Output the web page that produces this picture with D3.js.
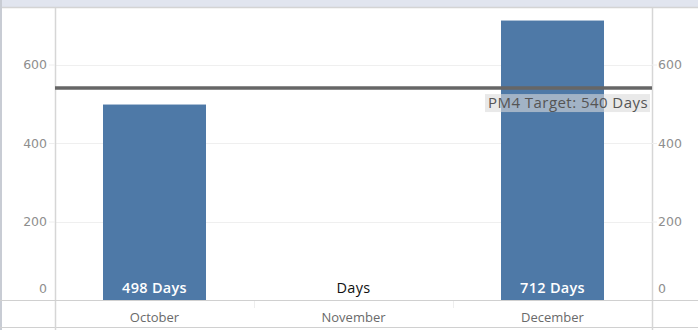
<!DOCTYPE html>
<html><head><meta charset="utf-8">
<script src="https://cdn.jsdelivr.net/npm/d3@7/dist/d3.min.js"></script>
<style>body{margin:0;background:#fff;overflow:hidden}svg{display:block}</style>
</head><body>
<script>
const months = ["October","November","December"];
const values = [498, null, 712];
const labels = ["498 Days","Days","712 Days"];
const yTicks = [0,200,400,600];
const target = 540;
const targetLabel = "PM4 Target: 540 Days";

const W=698,H=330;
const svg=d3.select("body").append("svg").attr("width",W).attr("height",H);
const L=55,R=652,T=8,B=300;
const x=d3.scaleBand().domain(months).range([L,R]).paddingInner(0).paddingOuter(0);
const y=d3.scaleLinear().domain([0,600]).range([B,B-235.5]);

// top band & borders
svg.append("rect").attr("x",0).attr("y",0).attr("width",W).attr("height",7).attr("fill","#e1e5ef");
svg.append("line").attr("x1",0).attr("x2",W).attr("y1",7.5).attr("y2",7.5).attr("stroke","#d4d4d4").attr("stroke-width",1.5);
svg.append("line").attr("x1",1).attr("x2",1).attr("y1",0).attr("y2",H).attr("stroke","#c8ccd4").attr("stroke-width",2);
svg.append("line").attr("x1",0).attr("x2",W).attr("y1",327.5).attr("y2",327.5).attr("stroke","#d0d0d0");

// gridlines
svg.append("g").selectAll("line").data(yTicks.filter(d=>d>0)).join("line")
  .attr("x1",L).attr("x2",R).attr("y1",d=>Math.round(y(d))+0.5).attr("y2",d=>Math.round(y(d))+0.5)
  .attr("stroke","#efefef");

// category dividers in bottom row
svg.append("g").selectAll("line").data(months.slice(1)).join("line")
  .attr("x1",d=>Math.round(x(d))+0.5).attr("x2",d=>Math.round(x(d))+0.5).attr("y1",B).attr("y2",B+8)
  .attr("stroke","#eeeeee");

// bars
const bw=103;
svg.append("g").selectAll("rect").data(months.map((m,i)=>({m,v:values[i]})).filter(d=>d.v!=null)).join("rect")
  .attr("x",d=>x(d.m)+x.bandwidth()/2-bw/2).attr("width",bw)
  .attr("y",d=>y(d.v)).attr("height",d=>B-y(d.v)).attr("fill","#4e79a7");

// panes
svg.append("line").attr("x1",L+0.5).attr("x2",L+0.5).attr("y1",T).attr("y2",H).attr("stroke","#d6d6d6").attr("stroke-width",1.5);
svg.append("line").attr("x1",R+0.5).attr("x2",R+0.5).attr("y1",T).attr("y2",H).attr("stroke","#d6d6d6").attr("stroke-width",1.5);
svg.append("line").attr("x1",0).attr("x2",W).attr("y1",B+0.5).attr("y2",B+0.5).attr("stroke","#d0d0d0");

// axes
const la=svg.append("g").attr("transform",`translate(${L},0)`).call(d3.axisLeft(y).tickValues(yTicks).tickSize(6).tickPadding(2));
const ra=svg.append("g").attr("transform",`translate(${R},0)`).call(d3.axisRight(y).tickValues(yTicks).tickSize(5).tickPadding(1));
[la,ra].forEach(a=>{
  a.select(".domain").remove();
  a.selectAll(".tick line").attr("stroke","#eeeeee");
  a.selectAll(".tick").filter(d=>d===0).select("line").remove();
  a.selectAll("text").attr("fill","#8e8e8e").style("font-family","'DejaVu Sans',sans-serif").style("font-size","12.5px");
  a.selectAll(".tick").filter(d=>d===0).select("text").attr("dy","-0.6em");
});

// target line
svg.append("line").attr("x1",L).attr("x2",R).attr("y1",y(target)).attr("y2",y(target)).attr("stroke","#666").attr("stroke-width",3.5);
const tl=svg.append("g");
const tt=tl.append("text").attr("x",R-4).attr("y",y(target)+20).attr("text-anchor","end")
  .attr("fill","#555").style("font-family","'Open Sans',sans-serif").style("font-size","15px")
  .style("letter-spacing","0.45px").text(targetLabel);
const bb=tt.node().getBBox();
tl.insert("rect","text").attr("x",bb.x-3).attr("y",y(target)+6).attr("width",bb.width+5).attr("height",18).attr("fill","rgba(218,218,218,0.6)");

// value labels
svg.append("g").selectAll("text").data(months.map((m,i)=>({m,v:values[i],l:labels[i]}))).join("text")
  .attr("x",d=>x(d.m)+x.bandwidth()/2).attr("y",B-7).attr("text-anchor","middle")
  .attr("fill",d=>d.v!=null?"#fff":"#111").style("font-weight",d=>d.v!=null?"600":"normal")
  .style("letter-spacing","0.3px")
  .style("font-family","'Open Sans',sans-serif").style("font-size","14.5px").text(d=>d.l);

// x labels
svg.append("g").selectAll("text").data(months).join("text")
  .attr("x",d=>x(d)+x.bandwidth()/2).attr("y",322).attr("text-anchor","middle")
  .attr("fill","#6a6a6a").style("font-family","'Open Sans',sans-serif").style("font-size","13px").text(d=>d);
</script>
</body></html>
